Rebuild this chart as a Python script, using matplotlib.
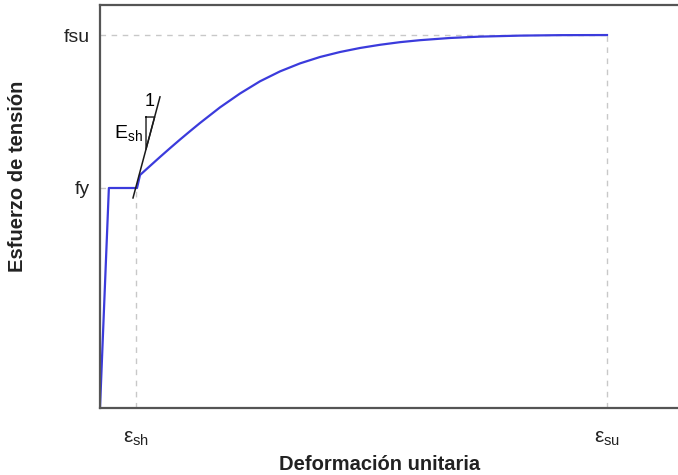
import matplotlib
matplotlib.use("Agg")
import matplotlib.pyplot as plt

plt.rcParams['font.family'] = ['Liberation Sans', 'DejaVu Sans']
plt.rcParams['mathtext.fontset'] = 'custom'
plt.rcParams['mathtext.rm'] = 'Liberation Sans'
plt.rcParams['mathtext.it'] = 'Liberation Sans'
plt.rcParams['mathtext.bf'] = 'Liberation Sans:bold'

# Key points of the idealised steel stress-strain curve
fy = 420.0       # yield stress
fsu = 712.0      # ultimate stress
ey = 0.0021      # yield strain
esh = 0.0085     # onset of strain hardening
esu = 0.12       # ultimate strain

# Strain-hardening branch (strain, stress)
hard_strain = [0.00876, 0.00947, 0.01183, 0.0142, 0.01657, 0.01893, 0.0213,
               0.02367, 0.0284, 0.03314, 0.03787, 0.0426, 0.04734, 0.05207,
               0.0568, 0.06154, 0.06627, 0.071, 0.07574, 0.08284, 0.08994,
               0.09941, 0.10888, 0.12]
hard_stress = [420, 444.8, 462.0, 479.2, 496.0, 512.4, 528.4, 544.1, 573.9,
               600.4, 623.7, 642.6, 657.9, 670.1, 679.6, 687.3, 693.4, 698.4,
               702.2, 706.4, 709.0, 710.9, 711.8, 712]

# Tangent line showing the hardening modulus Esh
tan_strain = [0.00781, 0.0142]
tan_stress = [401, 594]
tri_strain = [0.01089, 0.01293, 0.01089, 0.01089]
tri_stress = [555.5, 555.5, 494, 555.5]

ytick_vals = [fy, fsu]
ytick_labels = ['fy', 'fsu']
xtick_vals = [esh, esu]
xtick_labels = [r'$ε_{sh}$', r'$ε_{su}$']

fig = plt.figure(figsize=(6.78, 4.75), dpi=100)
ax = fig.add_axes([100 / 678, 1 - 408 / 475, 1 - 100 / 678, (408 - 5) / 475])

blue = '#3b3bdc'
grid_c = '#c8c8c8'

# Reference dashed guides
ax.plot([0, esu], [fsu, fsu], ls=(0, (4, 4)), color=grid_c, lw=1.0)
ax.plot([0, ey], [fy, fy], ls=(0, (4, 4)), color=grid_c, lw=1.0)
ax.plot([esh, esh], [0, fy], ls=(0, (4, 4)), color=grid_c, lw=1.0)
ax.plot([esu, esu], [0, fsu], ls=(0, (4, 4)), color=grid_c, lw=1.0)

# Stress-strain curve
curve_x = [0, ey, hard_strain[0]] + hard_strain[1:]
curve_y = [0, fy, fy] + hard_stress[1:]
ax.plot(curve_x, curve_y, color=blue, lw=1.6, solid_joinstyle='round')

# Hardening modulus slope triangle
ax.plot(tan_strain, tan_stress, color='#1a1a1a', lw=1.1)
ax.plot(tri_strain, tri_stress, color='#1a1a1a', lw=1.0)
ax.text(0.01183, 586, '1', fontsize=13, ha='center', va='center')
ax.text(0.0101, 525, r'$\mathregular{E_{sh}}$', fontsize=14, ha='right', va='center')

ax.set_xlim(0, (578 / 507) * esu)
ax.set_ylim(0, (403 / 220) * fy)

ax.set_yticks(ytick_vals)
ax.set_yticklabels(ytick_labels, fontsize=14)
ax.set_xticks(xtick_vals)
ax.set_xticklabels(xtick_labels, fontsize=15)
ax.tick_params(axis='y', length=0, pad=7, colors='#222222')
ax.tick_params(axis='x', length=0, pad=15, colors='#222222')

for side in ['left', 'top', 'bottom']:
    ax.spines[side].set_color('#555555')
    ax.spines[side].set_linewidth(1.6)
ax.spines['right'].set_visible(False)

fig.text(380 / 678, 1 - 464 / 475, 'Deformación unitaria', fontsize=14.5,
         fontweight='bold', ha='center', va='center', color='#222222')
fig.text(18 / 678, 1 - 176 / 475, 'Esfuerzo de tensión', fontsize=14.5,
         fontweight='bold', ha='center', va='center', rotation=90, color='#222222')

fig.savefig('out.png', dpi=100)
